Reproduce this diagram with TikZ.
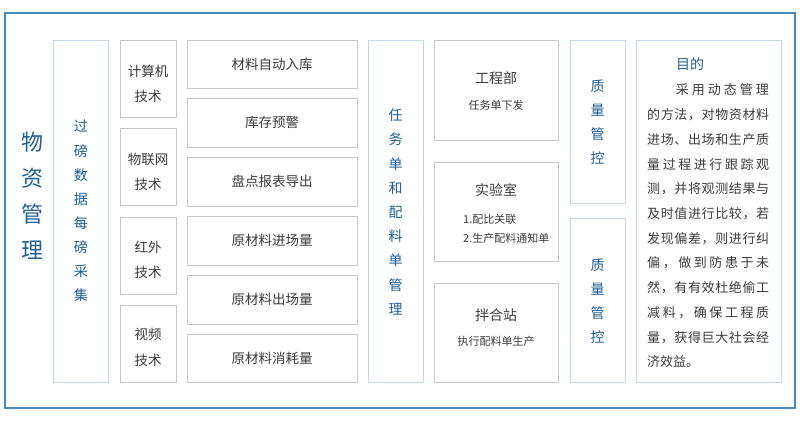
\documentclass[tikz,border=0pt]{standalone}
\usepackage{fontspec}
\setmainfont{Noto Sans CJK SC}
\definecolor{frameblue}{HTML}{4A8AB8}
\definecolor{lightblue}{HTML}{C2DAEB}
\definecolor{grayline}{HTML}{C8C8C8}
\definecolor{bluetext}{HTML}{1F5F96}
\definecolor{graytext}{HTML}{3C3C3C}
\def\spreadit#1{\spA#1\relax}
\def\spA#1{#1\futurelet\nxt\spB}
\def\spB{\ifx\nxt\relax\expandafter\spEnd\else\hfil\expandafter\spA\fi}
\def\spEnd\relax{}
\newcommand\bx[6]{\node[#6, minimum width={#4-#2}, minimum height={#5-#3}] (#1) at ({(#2+#4)/2},{(#3+#5)/2}) {};}
\begin{document}
\begin{tikzpicture}[x=1pt,y=-1pt,
  gbox/.style={draw=grayline, line width=0.9pt, fill=white, inner sep=0pt, outer sep=0pt},
  lbbox/.style={draw=lightblue, line width=0.9pt, fill=white, inner sep=0pt, outer sep=0pt},
  btxt/.style={text=bluetext, inner sep=0pt, align=center},
  gtxt/.style={text=graytext, inner sep=0pt, align=center},
  ptxt/.style={text=graytext, inner sep=0pt, anchor=west, font=\fontsize{13}{13}\selectfont}
]
\useasboundingbox (0,0) rectangle (800,424);
\node[draw=frameblue, line width=1.1pt, inner sep=0pt, outer sep=0pt, minimum width=790pt, minimum height=395pt] (frame) at (400,210.5) {};

% column 1
\node[btxt, font=\fontsize{22}{36}\selectfont] (title) at (32,196) {物\\资\\管\\理};

% column 2
\bx{c2}{53.5}{40}{108}{382}{lbbox}
\node[btxt, font=\fontsize{14}{24.1}\selectfont] (c2t) at (c2.center) {过\\磅\\数\\据\\每\\磅\\采\\集};

% column 3
\bx{c3a}{120}{40}{176}{117}{gbox}
\bx{c3b}{120}{128}{176}{205}{gbox}
\bx{c3c}{120}{217}{176}{294}{gbox}
\bx{c3d}{120}{305}{176}{382}{gbox}
\begin{scope}[every node/.style={gtxt, font=\fontsize{13.5}{25.5}\selectfont}]
\node (c3at) at (148,84) {计算机\\技术};
\node (c3bt) at (148,172) {物联网\\技术};
\node (c3ct) at (148,260) {红外\\技术};
\node (c3dt) at (148,347.5) {视频\\技术};
\end{scope}

% column 4
\bx{c4a}{187}{40}{357}{88}{gbox}
\bx{c4b}{187}{98}{357}{147}{gbox}
\bx{c4c}{187}{157}{357}{206.5}{gbox}
\bx{c4d}{187}{216}{357}{265}{gbox}
\bx{c4e}{187}{275}{357}{324}{gbox}
\bx{c4f}{187}{334}{357}{382}{gbox}
\begin{scope}[every node/.style={gtxt, font=\fontsize{13.5}{16}\selectfont}]
\node (c4at) at (c4a.center) {材料自动入库};
\node (c4bt) at (c4b.center) {库存预警};
\node (c4ct) at (c4c.center) {盘点报表导出};
\node (c4dt) at (c4d.center) {原材料进场量};
\node (c4et) at (c4e.center) {原材料出场量};
\node (c4ft) at (c4f.center) {原材料消耗量};
\end{scope}

% column 5
\bx{c5}{368}{40}{423}{382}{lbbox}
\node[btxt, font=\fontsize{14}{24.2}\selectfont] (c5t) at (395.5,212) {任\\务\\单\\和\\配\\料\\单\\管\\理};

% column 6
\bx{c6a}{434}{40}{558}{140}{gbox}
\bx{c6b}{434}{162}{558}{261}{gbox}
\bx{c6c}{434}{283}{558}{382}{gbox}
\node[gtxt, font=\fontsize{14}{16}\selectfont] (c6a1) at (496,78) {工程部};
\node[gtxt, font=\fontsize{11}{13}\selectfont] (c6a2) at (496,105) {任务单下发};
\node[gtxt, font=\fontsize{14}{16}\selectfont] (c6b1) at (496,190) {实验室};
\node[gtxt, font=\fontsize{11}{13}\selectfont, anchor=west] (c6b2) at (463,219) {1.配比关联};
\node[gtxt, font=\fontsize{11}{13}\selectfont, anchor=west] (c6b3) at (463,238.5) {2.生产配料通知单};
\node[gtxt, font=\fontsize{14}{16}\selectfont] (c6c1) at (496,315) {拌合站};
\node[gtxt, font=\fontsize{11}{13}\selectfont] (c6c2) at (496,341) {执行配料单生产};

% column 7
\bx{c7a}{570}{40}{625}{203}{lbbox}
\bx{c7b}{570}{218}{625}{382}{lbbox}
\node[btxt, font=\fontsize{14}{24}\selectfont] (c7at) at (597.5,122) {质\\量\\管\\控};
\node[btxt, font=\fontsize{14}{24}\selectfont] (c7bt) at (597.5,301) {质\\量\\管\\控};

% column 8
\bx{c8}{636}{40}{781}{382}{lbbox}
\node[btxt, font=\fontsize{14}{16}\selectfont] (goal) at (690,64) {目的};
\node[ptxt, anchor=east] (p1) at (769,90) {\hbox to 93pt{\spreadit{采用动态管理}}};
\node[ptxt] (p2) at (647,114.73) {\hbox to 122pt{\spreadit{的方法，对物资材料}}};
\node[ptxt] (p3) at (647,139.46) {\hbox to 122pt{\spreadit{进场、出场和生产质}}};
\node[ptxt] (p4) at (647,164.19) {\hbox to 122pt{\spreadit{量过程进行跟踪观}}};
\node[ptxt] (p5) at (647,188.92) {\hbox to 122pt{\spreadit{测，并将观测结果与}}};
\node[ptxt] (p6) at (647,213.65) {\hbox to 122pt{\spreadit{及时值进行比较，若}}};
\node[ptxt] (p7) at (647,238.38) {\hbox to 122pt{\spreadit{发现偏差，则进行纠}}};
\node[ptxt] (p8) at (647,263.11) {\hbox to 122pt{\spreadit{偏，做到防患于未}}};
\node[ptxt] (p9) at (647,287.84) {\hbox to 122pt{\spreadit{然，有有效杜绝偷工}}};
\node[ptxt] (p10) at (647,312.57) {\hbox to 122pt{\spreadit{减料，确保工程质}}};
\node[ptxt] (p11) at (647,337.30) {\hbox to 122pt{\spreadit{量，获得巨大社会经}}};
\node[ptxt] (p12) at (647,362.03) {济效益。};
\end{tikzpicture}
\end{document}
